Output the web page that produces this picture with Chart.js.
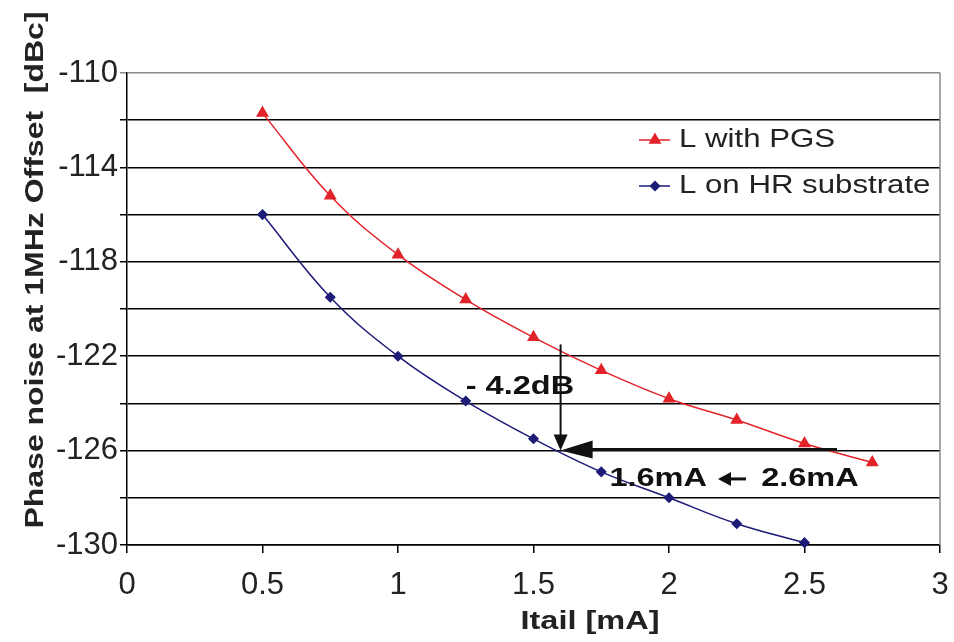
<!DOCTYPE html>
<html>
<head>
<meta charset="utf-8">
<script src="https://cdn.jsdelivr.net/npm/chart.js@4/dist/chart.umd.min.js"></script>
<style>
  html, body { margin: 0; padding: 0; background: #fff; }
</style>
</head>
<body>
<canvas id="chart" width="954" height="642"></canvas>
<script>
// Data
const pgsCurrent = [0.5, 0.75, 1, 1.25, 1.5, 1.75, 2, 2.25, 2.5, 2.75];
const pgsNoise = [-111.7, -115.2, -117.7, -119.6, -121.2, -122.6, -123.8, -124.7, -125.7, -126.5];
const hrCurrent = [0.5, 0.75, 1, 1.25, 1.5, 1.75, 2, 2.25, 2.5];
const hrNoise = [-116.0, -119.5, -122.0, -123.9, -125.5, -126.9, -128.0, -129.1, -129.9];
const seriesNames = ["L with PGS", "L on HR substrate"];
const xTicks = [0, 0.5, 1, 1.5, 2, 2.5, 3];

// Annotation (data coordinates)
const dropLine = { x: 1.6, from: -121.5, to: -126 };
const shiftLine = { y: -126, from: 2.62, to: 1.6 };
const dropText = { x: 1.25, y: -123.3, text: "- 4.2dB" };
const shiftText = [
  { x: 1.78, y: -127.2, text: "1.6mA" },
  { x: 2.34, y: -127.2, text: "2.6mA" }
];

const RED = "#e2232a";
const BLUE = "#1d1b78";
const FONT = "'Liberation Sans', Arial, sans-serif";

// the original text is a bit wide, so stretch it sideways
function wideText(ctx, text, x, y, sx, angle) {
  ctx.save();
  ctx.translate(x, y);
  if (angle) ctx.rotate(angle);
  ctx.scale(sx, 1);
  ctx.fillText(text, 0, 0);
  ctx.restore();
}

// Legend, arrows, titles
const extras = {
  id: "extras",
  afterDatasetsDraw(chart) {
    const { ctx, chartArea, scales } = chart;
    const xs = scales.x, ys = scales.y;
    ctx.save();

    // right frame line
    ctx.strokeStyle = "#8a8a8a";
    ctx.lineWidth = 1.5;
    ctx.beginPath();
    ctx.moveTo(chartArea.right, chartArea.top);
    ctx.lineTo(chartArea.right, chartArea.bottom);
    ctx.stroke();

    // legend
    const legend = [
      { name: seriesNames[0], color: RED, style: "triangle", r: 6, y: 140 },
      { name: seriesNames[1], color: BLUE, style: "rectRot", r: 4.5, y: 186 }
    ];
    legend.forEach((l) => {
      ctx.strokeStyle = l.color;
      ctx.lineWidth = 1.5;
      ctx.beginPath();
      ctx.moveTo(639, l.y);
      ctx.lineTo(670, l.y);
      ctx.stroke();
      ctx.fillStyle = l.color;
      Chart.helpers.drawPoint(ctx, { pointStyle: l.style, radius: l.r, borderWidth: 1 }, 655, l.y);
      ctx.fillStyle = "#222";
      ctx.font = "26px " + FONT;
      ctx.textBaseline = "middle";
      ctx.textAlign = "left";
      wideText(ctx, l.name, 679, l.y, 1.2);
    });

    ctx.fillStyle = "#111";
    ctx.strokeStyle = "#111";

    // vertical arrow
    const vx = xs.getPixelForValue(dropLine.x);
    const vTop = ys.getPixelForValue(dropLine.from);
    const vTip = ys.getPixelForValue(dropLine.to);
    ctx.lineWidth = 2;
    ctx.beginPath();
    ctx.moveTo(vx, vTop);
    ctx.lineTo(vx, vTip - 14);
    ctx.stroke();
    ctx.beginPath();
    ctx.moveTo(vx, vTip);
    ctx.lineTo(vx - 7, vTip - 16);
    ctx.lineTo(vx + 7, vTip - 16);
    ctx.closePath();
    ctx.fill();

    // horizontal arrow
    const hy = ys.getPixelForValue(shiftLine.y) - 1;
    const hStart = xs.getPixelForValue(shiftLine.from);
    const hTip = xs.getPixelForValue(shiftLine.to);
    ctx.lineWidth = 3;
    ctx.beginPath();
    ctx.moveTo(hStart, hy);
    ctx.lineTo(hTip + 30, hy);
    ctx.stroke();
    ctx.beginPath();
    ctx.moveTo(hTip, hy + 1);
    ctx.lineTo(hTip + 32, hy - 9);
    ctx.lineTo(hTip + 32, hy + 9);
    ctx.closePath();
    ctx.fill();

    // annotation texts
    ctx.font = "bold 26px " + FONT;
    ctx.textAlign = "left";
    ctx.textBaseline = "middle";
    wideText(ctx, dropText.text, xs.getPixelForValue(dropText.x), ys.getPixelForValue(dropText.y), 1.25);
    shiftText.forEach((t) => {
      wideText(ctx, t.text, xs.getPixelForValue(t.x), ys.getPixelForValue(t.y), 1.25);
    });
    // small arrow between the currents
    const ay = ys.getPixelForValue(shiftText[0].y);
    ctx.lineWidth = 3;
    ctx.beginPath();
    ctx.moveTo(746, ay);
    ctx.lineTo(729, ay);
    ctx.stroke();
    ctx.beginPath();
    ctx.moveTo(718, ay);
    ctx.lineTo(731, ay - 7);
    ctx.lineTo(731, ay + 7);
    ctx.closePath();
    ctx.fill();

    // axis titles
    ctx.fillStyle = "#222";
    ctx.font = "bold 26px " + FONT;
    ctx.textAlign = "center";
    ctx.textBaseline = "middle";
    wideText(ctx, "Itail [mA]", 590, 622, 1.25);
    wideText(ctx, "Phase noise at 1MHz Offset  [dBc]", 36, 270, 1.23, -Math.PI / 2);

    ctx.restore();
  }
};

const chart = new Chart(document.getElementById("chart"), {
  type: "line",
  data: {
    datasets: [
      {
        label: seriesNames[0],
        data: pgsCurrent.map((x, i) => ({ x: x, y: pgsNoise[i] })),
        borderColor: RED,
        backgroundColor: RED,
        borderWidth: 1.5,
        pointStyle: "triangle",
        pointRadius: 6,
        tension: 0.4,
        clip: 10
      },
      {
        label: seriesNames[1],
        data: hrCurrent.map((x, i) => ({ x: x, y: hrNoise[i] })),
        borderColor: BLUE,
        backgroundColor: BLUE,
        borderWidth: 1.5,
        pointStyle: "rectRot",
        pointRadius: 4.5,
        tension: 0.4,
        clip: 10
      }
    ]
  },
  options: {
    responsive: false,
    animation: false,
    devicePixelRatio: 1,
    layout: { padding: { top: 73, right: 14, left: 0, bottom: 0 } },
    plugins: {
      legend: { display: false },
      tooltip: { enabled: false }
    },
    scales: {
      x: {
        type: "linear",
        min: 0,
        max: 3,
        afterBuildTicks: (s) => { s.ticks = xTicks.map((v) => ({ value: v })); },
        afterFit: (s) => { s.height = 97; s.paddingLeft = 0; s.paddingRight = 0; },
        ticks: {
          color: "#222",
          padding: 14,
          maxRotation: 0,
          font: { family: FONT, size: 31 },
          callback: (v) => String(v)
        },
        grid: { drawOnChartArea: false, color: "#000", lineWidth: 1.5, tickLength: 8 },
        border: { color: "#000", width: 1.5 }
      },
      y: {
        min: -130,
        max: -110,
        afterFit: (s) => { s.width = 127; s.paddingTop = 0; s.paddingBottom = 0; },
        ticks: {
          stepSize: 2,
          color: "#222",
          padding: 2,
          font: { family: FONT, size: 31 },
          callback: (v) => (Math.abs((v + 110) % 4) === 0 ? v : "")
        },
        grid: {
          color: (c) => (c.tick && c.tick.value === -110 ? "#8a8a8a" : "#000"),
          lineWidth: 1.5,
          tickLength: 7
        },
        border: { color: "#000", width: 1.5 }
      }
    }
  },
  plugins: [extras]
});
</script>
</body>
</html>
